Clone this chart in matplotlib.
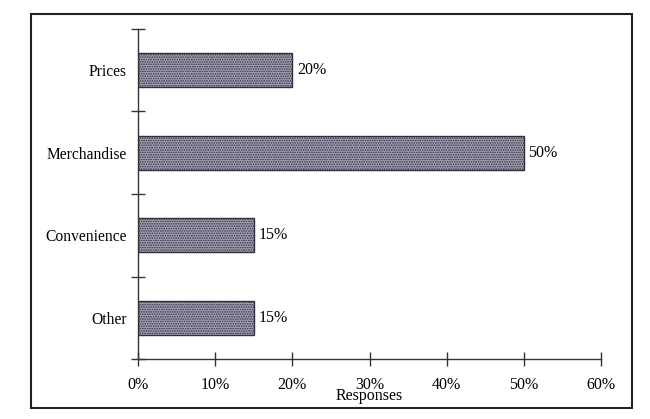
import matplotlib
matplotlib.use("Agg")
import matplotlib.pyplot as plt
from matplotlib.patches import Rectangle

categories = ["Prices", "Merchandise", "Convenience", "Other"]
values = [20, 50, 15, 15]
xticks = [0, 10, 20, 30, 40, 50, 60]

plt.rcParams['font.family'] = ['Liberation Serif', 'DejaVu Serif']
plt.rcParams['hatch.linewidth'] = 0.8
plt.rcParams['hatch.color'] = '#4a4a5c'

W, H = 650, 419
fig = plt.figure(figsize=(6.5, 4.19), dpi=100)
ax = fig.add_axes([138 / W, 1 - 359 / H, (601 - 138) / W, (359 - 29) / H])

n = len(categories)
ypos = [n - 1 - i for i in range(n)]
bars = ax.barh(ypos, values, height=0.41, color='#a2a2b4', edgecolor='#303040',
               linewidth=1.0, hatch='.......')
for y, v in zip(ypos, values):
    ax.text(v + 0.6, y, f"{v}%", va='center', ha='left', fontsize=11.5)

ax.set_xlim(0, 60)
ax.set_ylim(-0.5, n - 0.5)
ax.set_xticks(xticks)
ax.set_xticklabels([f"{t}%" for t in xticks], fontsize=11.5)
ax.set_yticks([i - 0.5 for i in range(n + 1)])
ax.set_yticklabels([])
ax.set_yticks(ypos, minor=True)
ax.set_yticklabels(categories, minor=True, fontsize=11.2)
ax.tick_params(axis='y', which='minor', length=0, pad=8)
ax.tick_params(axis='y', which='major', direction='inout', length=10, width=1, color='#333333')
ax.tick_params(axis='x', direction='inout', length=10, width=1, color='#333333', pad=8)
for s in ['top', 'right']:
    ax.spines[s].set_visible(False)
for s in ['left', 'bottom']:
    ax.spines[s].set_color('#333333')
    ax.spines[s].set_linewidth(1.0)
ax.set_xlabel("Responses", fontsize=11.5, labelpad=-4)

fig.patches.append(Rectangle((31 / W, 1 - 408 / H), (632 - 31) / W, (408 - 14) / H,
                             transform=fig.transFigure, fill=False,
                             edgecolor='#222222', linewidth=1.5))

fig.savefig("out.png", dpi=100)
